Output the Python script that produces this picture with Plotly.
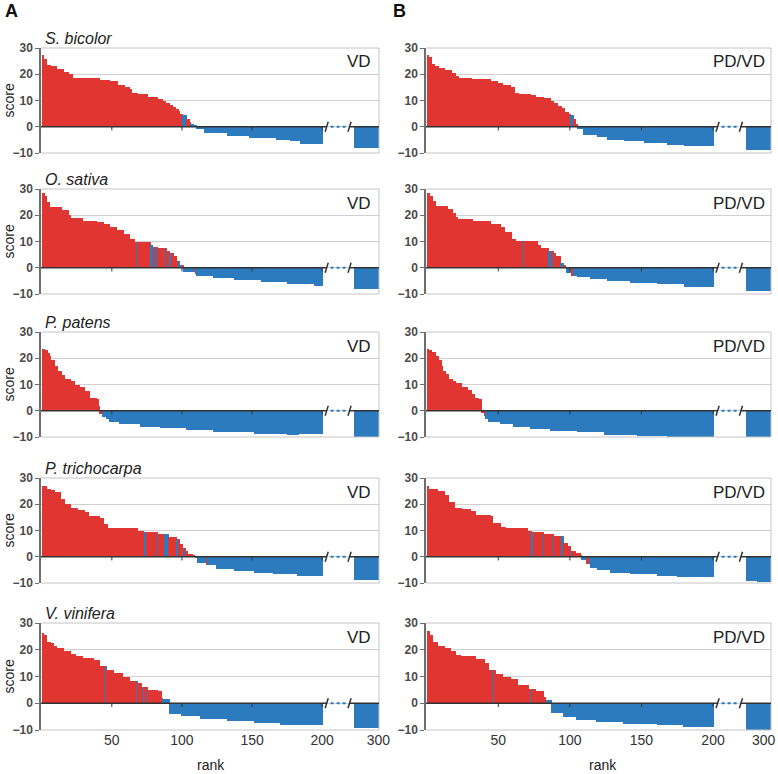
import plotly.graph_objects as go

RED = "#E03530"
BLUE = "#2C7BBF"
FONT = "Arial, Liberation Sans, sans-serif"

species = ["S. bicolor", "O. sativa", "P. patens", "P. trichocarpa", "V. vinifera"]
methods = ["VD", "PD/VD"]
panel_letters = ["A", "B"]

# ranked scores as (last rank of plateau, score)
sbicolor_vd = [(1, 27.5), (3, 26), (6, 23.5), (10, 23), (15, 22), (19, 21), (22, 20), (41, 18.4), (48, 18),
               (54, 17.4), (59, 16), (62, 15.3), (64, 14.3), (68, 13), (75, 12.4), (82, 11.5), (86, 10.7),
               (88, 10), (91, 9.2), (93, 8.3), (95, 7.5), (97, 6.6), (98, 6), (100, 4.8), (103, 4.5), (105, 3),
               (106, 2), (108, 1.2), (110, 0.4), (116, -0.9), (132, -2.5), (148, -3.4), (167, -4.3), (177, -5),
               (184, -5.6), (200, -6.5)]
sbicolor_vd_tail = [(300, -8)]
sbicolor_vd_flip = [101, 102, 103, 107, 108, 109, 110]

sbicolor_pdvd = [(1, 27.5), (3, 26.5), (5, 24), (8, 23), (12, 22.5), (17, 21.5), (20, 20.5), (22, 19.5),
                 (31, 18.5), (44, 18.2), (49, 17.5), (53, 16.5), (58, 15.8), (61, 15.2), (64, 13), (72, 12.5),
                 (76, 12), (81, 11.5), (86, 10.8), (88, 10), (91, 9), (94, 8), (96, 7), (99, 5.5), (100, 4.8),
                 (102, 4.5), (104, 3), (105, 1), (109, -1), (119, -3), (126, -4), (138, -5), (152, -5.5),
                 (168, -6), (180, -6.8), (200, -7.5)]
sbicolor_pdvd_tail = [(300, -8.8)]
sbicolor_pdvd_flip = [101, 102]

osativa_vd = [(2, 28.5), (3, 27.5), (5, 25), (14, 23), (19, 22), (20, 20), (29, 19), (39, 18), (44, 17.5),
              (48, 16.5), (53, 15.5), (58, 14.5), (62, 13), (66, 11), (77, 10), (79, 8.5), (82, 8), (89, 7.5),
              (91, 6.5), (94, 5.5), (96, 4.5), (98, 2.5), (101, 1), (109, -1.7), (110, -2.5), (122, -3),
              (137, -3.8), (156, -4.5), (175, -5.3), (194, -6.3), (200, -7)]
osativa_vd_tail = [(300, -8)]
osativa_vd_flip = [68, 78, 79, 81, 83, 88, 92, 98, 99, 100, 110]

osativa_pdvd = [(2, 28.5), (4, 27.5), (6, 25.5), (14, 23.5), (18, 22.5), (20, 21), (21, 19.5), (32, 18.7),
                (44, 18), (51, 16.5), (54, 15.5), (59, 13.5), (62, 11), (77, 10.3), (79, 8.5), (85, 7.5),
                (88, 6.2), (90, 5.5), (93, 4.5), (95, 2), (97, 1), (101, -2), (105, -3), (114, -3.5),
                (126, -4.2), (142, -5), (161, -5.7), (180, -6.3), (200, -7.5)]
osativa_pdvd_tail = [(300, -9)]
osativa_pdvd_flip = [68, 86, 87, 89, 94, 95, 102]

ppatens_vd = [(2, 23.5), (4, 23), (5, 22), (6, 21), (9, 19.5), (11, 17), (14, 15), (16, 13.5), (20, 12),
              (23, 11.5), (27, 10), (30, 9), (34, 7.5), (39, 5), (40, 4.5), (41, 2), (43, -1.3), (46, -2.5),
              (48, -3.3), (55, -4.2), (70, -5.1), (84, -6), (103, -6.7), (122, -7.3), (151, -8), (175, -8.7),
              (183, -9.2), (200, -9)]
ppatens_vd_tail = [(300, -10)]
ppatens_vd_flip = [42, 43]

ppatens_pdvd = [(1, 23.5), (3, 23), (6, 22.5), (8, 21), (10, 19.5), (11, 17), (13, 15), (15, 14), (18, 12),
                (20, 11.5), (24, 10.5), (28, 9), (31, 8), (33, 6.5), (36, 5), (38, 4.5), (40, -1), (41, -2),
                (43, -3.2), (51, -4.2), (60, -5), (72, -6.2), (86, -7), (105, -7.7), (124, -8.2), (147, -9.2),
                (168, -9.8), (200, -10)]
ppatens_pdvd_tail = [(300, -10.4)]
ppatens_pdvd_flip = [39, 40, 41]

ptrichocarpa_vd = [(3, 26.8), (6, 26), (9, 25.5), (13, 24.5), (16, 22), (20, 20), (25, 18.5), (30, 18),
                   (33, 17), (41, 15.5), (44, 14.8), (47, 12.5), (52, 11), (68, 10.8), (72, 10), (82, 9.5),
                   (90, 8.5), (96, 7.5), (98, 6.8), (100, 4.7), (102, 3.5), (104, 2.2), (107, 0.9), (109, 0.5),
                   (111, -0.6), (117, -2.3), (118, -3), (124, -3.3), (137, -4.6), (151, -5.5), (165, -6.2),
                   (182, -6.7), (200, -7.2)]
ptrichocarpa_vd_tail = [(300, -8.7)]
ptrichocarpa_vd_flip = [74, 83, 88, 89, 90, 97, 101, 103, 118]

ptrichocarpa_pdvd = [(1, 26.9), (7, 26), (12, 25), (15, 23.5), (19, 21), (24, 18.5), (30, 18.2), (34, 17.5),
                     (44, 16), (46, 15.5), (51, 13), (55, 11.5), (70, 11), (73, 10), (81, 9.5), (88, 8.5),
                     (95, 8), (98, 5.4), (100, 4.2), (104, 2.3), (107, 1.4), (108, 0.6), (111, -1.1),
                     (114, -2.8), (119, -4.4), (128, -5), (142, -6), (161, -6.6), (175, -7.2), (200, -7.8)]
ptrichocarpa_pdvd_tail = [(291, -9.1), (300, -9.7)]
ptrichocarpa_pdvd_flip = [74, 82, 89, 95, 101, 112, 113]

vvinifera_vd = [(1, 26.4), (3, 25.5), (6, 23), (8, 22.5), (10, 21.5), (15, 20.8), (20, 19.5), (24, 18.5),
                (29, 17.7), (37, 17), (41, 16), (46, 14), (51, 12.5), (57, 11.2), (62, 9.8), (68, 8.5),
                (71, 7.5), (75, 6), (82, 5), (85, 4.5), (86, 2), (91, 1.5), (99, -4), (113, -4.8), (132, -6),
                (151, -6.8), (170, -7.3), (200, -8)]
vvinifera_vd_tail = [(300, -9.4)]
vvinifera_vd_flip = [46, 68, 73, 76, 87, 88, 89, 90, 91]

vvinifera_pdvd = [(2, 26.9), (4, 25.5), (7, 23), (12, 21.5), (16, 20.8), (20, 19.5), (23, 18.2), (34, 17.5),
                  (40, 16.5), (43, 15), (48, 12.5), (53, 11), (58, 10), (63, 9), (71, 7), (76, 5.5), (81, 4.7),
                  (83, 2.5), (87, 1.3), (95, -3.8), (104, -5.3), (118, -6.2), (137, -7), (161, -7.7),
                  (179, -8.2), (200, -9)]
vvinifera_pdvd_tail = [(300, -10.5)]
vvinifera_pdvd_flip = [47, 73, 84, 85, 86, 87]

panels = [
    [(sbicolor_vd, sbicolor_vd_tail, sbicolor_vd_flip), (sbicolor_pdvd, sbicolor_pdvd_tail, sbicolor_pdvd_flip)],
    [(osativa_vd, osativa_vd_tail, osativa_vd_flip), (osativa_pdvd, osativa_pdvd_tail, osativa_pdvd_flip)],
    [(ppatens_vd, ppatens_vd_tail, ppatens_vd_flip), (ppatens_pdvd, ppatens_pdvd_tail, ppatens_pdvd_flip)],
    [(ptrichocarpa_vd, ptrichocarpa_vd_tail, ptrichocarpa_vd_flip),
     (ptrichocarpa_pdvd, ptrichocarpa_pdvd_tail, ptrichocarpa_pdvd_flip)],
    [(vvinifera_vd, vvinifera_vd_tail, vvinifera_vd_flip), (vvinifera_pdvd, vvinifera_pdvd_tail, vvinifera_pdvd_flip)],
]

x_tick_ranks = [50, 100, 150, 200, 300]
y_ticks = [-10, 0, 10, 20, 30]
TAIL_START = 284      # first rank shown after the axis break
BREAK_SHIFT = 60      # ranks hidden by the axis break


def expand(steps, start):
    ranks, vals = [], []
    r = start
    for end, v in steps:
        while r <= end:
            ranks.append(r)
            vals.append(v)
            r += 1
    return ranks, vals


def axis_pos(rank):
    return rank if rank <= 200 else rank - BREAK_SHIFT


W, H = 778, 774
col_px = [(41, 379), (426, 771)]
row_px = [(48, 153), (189, 294), (332, 437), (478, 583), (623, 730)]

fig = go.Figure()
layout = dict(width=W, height=H, margin=dict(l=0, r=0, t=0, b=0, pad=0, autoexpand=False),
              paper_bgcolor="white", plot_bgcolor="white", showlegend=False,
              bargap=0, font=dict(family=FONT))
shapes = []
annotations = []

n = 0
for ri, row in enumerate(panels):
    for ci, (steps, tail, flip) in enumerate(row):
        n += 1
        ax = "" if n == 1 else str(n)
        ranks, vals = expand(steps, 1)
        tr, tv = expand(tail, TAIL_START)
        ranks += tr
        vals += tv
        colors = []
        for r, v in zip(ranks, vals):
            pos = v >= 0
            if r in flip:
                pos = not pos
            colors.append(RED if pos else BLUE)
        fig.add_trace(go.Bar(x=[axis_pos(r) for r in ranks], y=vals, width=1.25,
                             marker=dict(color=colors, line=dict(width=0)),
                             xaxis="x" + ax, yaxis="y" + ax, hoverinfo="skip"))
        x0, x1 = col_px[ci]
        t, b = row_px[ri]
        shown = x_tick_ranks if ci == 0 else x_tick_ranks[:-1]
        layout["xaxis" + ax] = dict(
            domain=[x0 / W, x1 / W], anchor="y" + ax, range=[-0.5, 240.5], automargin=False,
            showgrid=False, zeroline=False, showline=False, ticks="",
            tickvals=[axis_pos(r) for r in shown], ticktext=[str(r) for r in shown],
            showticklabels=(ri == 4), tickfont=dict(size=14, color="#333333", family=FONT))
        layout["yaxis" + ax] = dict(
            domain=[1 - b / H, 1 - t / H], anchor="x" + ax, range=[-10, 30], automargin=False,
            tickvals=y_ticks, showgrid=True, gridcolor="#cfcfcf", gridwidth=1,
            zeroline=False, showline=True, linecolor="#6e6e6e", linewidth=1.5,
            ticks="outside", ticklen=4, tickcolor="#6e6e6e",
            tickfont=dict(size=12, color="#4a4a4a", family=FONT, weight=700))
        xr, yr = "x" + ax, "y" + ax
        # frame (top, bottom, right)
        for (a0, b0, a1, b1) in [(0, 1, 1, 1), (0, 0, 1, 0), (1, 0, 1, 1)]:
            shapes.append(dict(type="line", xref=xr + " domain", yref=yr + " domain",
                               x0=a0, y0=b0, x1=a1, y1=b1, line=dict(color="#c4c4c4", width=1)))
        # zero axis with break
        shapes.append(dict(type="line", xref=xr, yref=yr, x0=-0.5, x1=203.2, y0=0, y1=0,
                           line=dict(color="#333333", width=1.5)))
        shapes.append(dict(type="line", xref=xr, yref=yr, x0=219.5, x1=240.5, y0=0, y1=0,
                           line=dict(color="#333333", width=1.5)))
        shapes.append(dict(type="line", xref=xr, yref=yr, x0=206, x1=217, y0=0, y1=0,
                           line=dict(color=BLUE, width=2, dash="dot")))
        for sx in (203.2, 219.5):
            shapes.append(dict(type="line", xref=xr, yref=yr, x0=sx - 1.1, x1=sx + 1.1, y0=-1.9, y1=1.9,
                               line=dict(color="#333333", width=1.5)))
        for tk in x_tick_ranks[:-1]:
            shapes.append(dict(type="line", xref=xr, yref=yr, x0=tk, x1=tk, y0=0, y1=-1.4,
                               line=dict(color="#333333", width=1)))
        # method label
        annotations.append(dict(text=methods[ci], xref="paper", yref="paper",
                                x=(373 if ci == 0 else 767) / W, y=1 - (t + 14) / H,
                                xanchor="right", yanchor="middle", showarrow=False,
                                font=dict(size=17, color="#222222", family=FONT)))
        if ci == 0:
            annotations.append(dict(text="<i>" + species[ri] + "</i>", xref="paper", yref="paper",
                                    x=43 / W, y=1 - (t - 10) / H, xanchor="left", yanchor="middle",
                                    showarrow=False, font=dict(size=16, color="#222222", family=FONT)))
            annotations.append(dict(text="score", xref="paper", yref="paper", textangle=-90,
                                    x=8 / W, y=1 - ((t + b) / 2) / H, xanchor="center", yanchor="middle",
                                    showarrow=False, font=dict(size=14, color="#222222", family=FONT)))
        if ri == 4 and ci == 1:
            annotations.append(dict(text=str(x_tick_ranks[-1]), xref="paper", yref="paper",
                                    x=1, y=1 - 740 / H, xanchor="right", yanchor="middle",
                                    showarrow=False, font=dict(size=14, color="#333333", family=FONT)))

for ci, letter in enumerate(panel_letters):
    annotations.append(dict(text="<b>" + letter + "</b>", xref="paper", yref="paper",
                            x=(3 if ci == 0 else 391) / W, y=1 - 11 / H, xanchor="left", yanchor="middle",
                            showarrow=False, font=dict(size=18, color="#111111", family=FONT)))
    annotations.append(dict(text="rank", xref="paper", yref="paper",
                            x=(211 if ci == 0 else 603) / W, y=1 - 765 / H, xanchor="center",
                            yanchor="middle", showarrow=False,
                            font=dict(size=14, color="#222222", family=FONT)))

layout["shapes"] = shapes
layout["annotations"] = annotations
fig.update_layout(**layout)
fig.write_html("out.html", config={"displayModeBar": False},
               post_script="document.body.style.margin='0px';document.body.style.overflow='hidden';")
